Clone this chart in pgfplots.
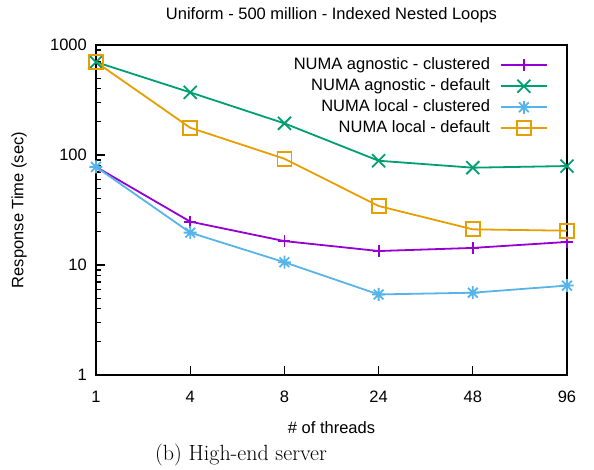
\documentclass[border=0pt]{standalone}
\usepackage{fontspec}
\usepackage{pgfplots}
\pgfplotsset{compat=1.18}
\newfontfamily\gpfont{Liberation Sans}
\definecolor{gpPurple}{HTML}{9400D3}
\definecolor{gpGreen}{HTML}{009E73}
\definecolor{gpBlue}{HTML}{56B4E9}
\definecolor{gpOrange}{HTML}{E69F00}
\pgfdeclareplotmark{gpstar}{%
 \pgfpathmoveto{\pgfqpoint{-\pgfplotmarksize}{0pt}}\pgfpathlineto{\pgfqpoint{\pgfplotmarksize}{0pt}}%
 \pgfpathmoveto{\pgfqpoint{0pt}{-\pgfplotmarksize}}\pgfpathlineto{\pgfqpoint{0pt}{\pgfplotmarksize}}%
 \pgfpathmoveto{\pgfqpoint{-.75\pgfplotmarksize}{-.75\pgfplotmarksize}}\pgfpathlineto{\pgfqpoint{.75\pgfplotmarksize}{.75\pgfplotmarksize}}%
 \pgfpathmoveto{\pgfqpoint{-.75\pgfplotmarksize}{.75\pgfplotmarksize}}\pgfpathlineto{\pgfqpoint{.75\pgfplotmarksize}{-.75\pgfplotmarksize}}%
 \pgfusepathqstroke}
\pgfdeclareplotmark{gpx}{%
 \pgfpathmoveto{\pgfqpoint{-\pgfplotmarksize}{-\pgfplotmarksize}}\pgfpathlineto{\pgfqpoint{\pgfplotmarksize}{\pgfplotmarksize}}%
 \pgfpathmoveto{\pgfqpoint{-\pgfplotmarksize}{\pgfplotmarksize}}\pgfpathlineto{\pgfqpoint{\pgfplotmarksize}{-\pgfplotmarksize}}%
 \pgfusepathqstroke}
\begin{document}
\begin{tikzpicture}[font=\gpfont\fontsize{16.5bp}{19bp}\selectfont]
\path[use as bounding box] (-96bp,-95bp) rectangle (498bp,375bp);
\begin{axis}[
  at={(0,0)}, anchor=south west,
  scale only axis, width=471bp, height=330bp,
  ymode=log, ymin=1, ymax=1000, xmin=0, xmax=5,
  xtick={0,1,2,3,4,5}, xticklabels={1,4,8,24,48,96},
  ytick={1,10,100,1000}, yticklabels={1,10,100,1000},
  xtick pos=bottom, ytick pos=left, tick align=inside,
  major tick length=9bp, minor tick length=5bp,
  every tick/.style={black, line width=1.2bp},
  axis line style={line width=2bp},
  /pgf/number format/assume math mode=true,
  xticklabel style={inner sep=0pt, anchor=north, yshift=-16bp},
  yticklabel style={inner sep=0pt, anchor=east, xshift=-9bp},
  clip=false,
  every axis plot/.append style={line width=1.8bp},
  legend cell align=right, legend plot pos=right,
  legend style={draw=none, fill=none, at={(rel axis cs:0.9597,0.971)}, anchor=north east,
    row sep=0pt, column sep=0pt, inner sep=0pt,
    nodes={inner xsep=0pt, inner ysep=2.75bp, text height=12bp, text depth=3.5bp}},
  legend image code/.code={\path (0bp,0bp); \draw[mark repeat=2, mark phase=2, #1] plot coordinates {(10bp,0bp) (33bp,0bp) (56bp,0bp)};},
]
\addplot[color=gpPurple, mark=+, mark size=6bp] coordinates {(0,78) (1,24.8) (2,16.5) (3,13.4) (4,14.3) (5,16.2)};
\addlegendentry{NUMA agnostic - clustered}
\addplot[color=gpGreen, mark=gpx, mark size=6.5bp] coordinates {(0,700) (1,371) (2,194) (3,88.7) (4,76.7) (5,79.4)};
\addlegendentry{NUMA agnostic - default}
\addplot[color=gpBlue, mark=gpstar, mark size=6.5bp] coordinates {(0,78) (1,19.7) (2,10.6) (3,5.4) (4,5.6) (5,6.5)};
\addlegendentry{NUMA local - clustered}
\addplot[color=gpOrange, mark=square, mark size=7bp, mark options={solid, fill=none}] coordinates {(0,700) (1,177) (2,92.5) (3,34.4) (4,21.1) (5,20.5)};
\addlegendentry{NUMA local - default}
\end{axis}
\node[anchor=base, inner sep=0pt] at (235.5bp,355bp) {Uniform - 500 million - Indexed Nested Loops};
\node[anchor=base, inner sep=0pt] at (235.5bp,-58bp) {\# of threads};
\node[anchor=base, inner sep=0pt, rotate=90] at (-72.5bp,165bp) {Response Time (sec)};
\node[anchor=base west, inner sep=0pt, font=\rmfamily\fontsize{22bp}{26bp}\selectfont] at (59bp,-85bp) {(b) High-end server};
\end{tikzpicture}
\end{document}
